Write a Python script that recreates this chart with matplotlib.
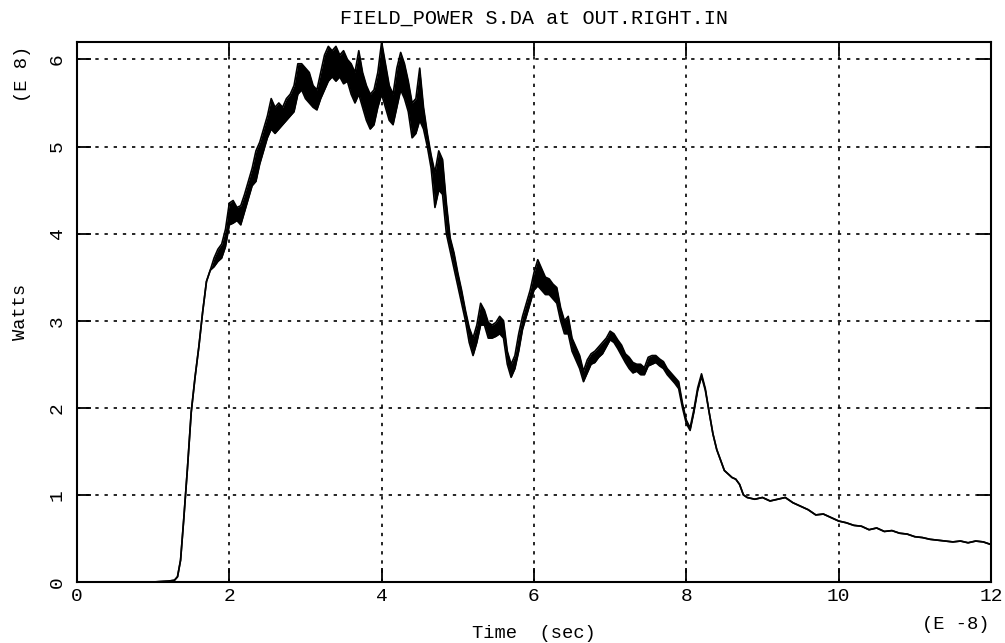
import numpy as np
import matplotlib
matplotlib.use("Agg")
import matplotlib.pyplot as plt

# --- data (time in units of 1e-8 s, power in units of 1e8 W) ---

# quiet start and the steep rise (single clean line)
t_rise = [0.0, 0.5, 1.0, 1.1, 1.2, 1.28, 1.32, 1.36, 1.40, 1.45, 1.50,
          1.55, 1.60, 1.65, 1.70, 1.75]
p_rise = [0.0, 0.0, 0.0, 0.005, 0.01, 0.02, 0.06, 0.25, 0.70, 1.30, 1.95,
          2.35, 2.70, 3.10, 3.45, 3.58]

# noisy middle part, 1.80 .. 8.75 every 0.05 : lower and upper edge of the band
t_band = np.round(np.arange(1.80, 8.76, 0.05), 2)
p_low = [
    3.62, 3.68, 3.72, 3.85, 4.10, 4.12, 4.15, 4.10, 4.25, 4.40,  # 1.80
    4.55, 4.60, 4.80, 4.95, 5.10, 5.20, 5.15, 5.20, 5.25, 5.30,  # 2.30
    5.35, 5.40, 5.60, 5.65, 5.55, 5.50, 5.45, 5.42, 5.55, 5.65,  # 2.80
    5.75, 5.80, 5.75, 5.80, 5.72, 5.75, 5.60, 5.50, 5.60, 5.45,  # 3.30
    5.30, 5.20, 5.25, 5.45, 5.60, 5.45, 5.30, 5.25, 5.45, 5.65,  # 3.80
    5.55, 5.40, 5.10, 5.15, 5.30, 5.20, 5.00, 4.75, 4.30, 4.50,  # 4.30
    4.45, 4.00, 3.80, 3.60, 3.40, 3.20, 3.00, 2.75, 2.60, 2.75,  # 4.80
    2.95, 2.95, 2.80, 2.80, 2.82, 2.85, 2.80, 2.50, 2.35, 2.45,  # 5.30
    2.65, 2.90, 3.05, 3.20, 3.35, 3.40, 3.35, 3.30, 3.30, 3.25,  # 5.80
    3.20, 3.00, 2.85, 2.85, 2.65, 2.55, 2.45, 2.30, 2.40, 2.50,  # 6.30
    2.52, 2.58, 2.62, 2.70, 2.78, 2.75, 2.68, 2.60, 2.52, 2.45,  # 6.80
    2.40, 2.42, 2.38, 2.38, 2.48, 2.50, 2.52, 2.48, 2.45, 2.38,  # 7.30
    2.33, 2.28, 2.22, 2.00, 1.82, 1.74, 1.95, 2.20, 2.36, 2.20,  # 7.80
    1.95, 1.70, 1.52, 1.40, 1.28, 1.24, 1.20, 1.18, 1.12, 1.00,  # 8.30
]
p_high = [
    3.72, 3.82, 3.88, 4.05, 4.35, 4.38, 4.30, 4.32, 4.45, 4.60,  # 1.80
    4.75, 4.95, 5.05, 5.20, 5.35, 5.55, 5.45, 5.50, 5.45, 5.55,  # 2.30
    5.60, 5.70, 5.95, 5.95, 5.90, 5.85, 5.70, 5.65, 5.85, 6.05,  # 2.80
    6.15, 6.10, 6.15, 6.05, 6.10, 6.00, 5.95, 5.85, 6.10, 5.85,  # 3.30
    5.70, 5.60, 5.65, 5.85, 6.20, 5.95, 5.70, 5.60, 5.90, 6.08,  # 3.80
    5.95, 5.75, 5.50, 5.55, 5.90, 5.45, 5.15, 4.90, 4.70, 4.95,  # 4.30
    4.85, 4.35, 3.95, 3.78, 3.55, 3.35, 3.12, 2.92, 2.80, 2.95,  # 4.80
    3.20, 3.12, 2.98, 2.95, 2.98, 3.05, 3.00, 2.65, 2.50, 2.60,  # 5.30
    2.85, 3.05, 3.20, 3.35, 3.55, 3.70, 3.60, 3.50, 3.48, 3.42,  # 5.80
    3.38, 3.15, 3.00, 3.05, 2.80, 2.70, 2.60, 2.42, 2.55, 2.62,  # 6.30
    2.65, 2.70, 2.75, 2.80, 2.88, 2.85, 2.78, 2.72, 2.62, 2.58,  # 6.80
    2.52, 2.50, 2.50, 2.46, 2.58, 2.60, 2.60, 2.56, 2.53, 2.45,  # 7.30
    2.40, 2.35, 2.30, 2.05, 1.86, 1.77, 1.98, 2.23, 2.39, 2.22,  # 7.80
    1.95, 1.70, 1.52, 1.40, 1.28, 1.24, 1.20, 1.18, 1.12, 1.00,  # 8.30
]

# slow decay tail, 8.8 .. 12.0 every 0.1
t_tail = np.round(np.arange(8.8, 12.01, 0.1), 1)
p_tail = [0.97, 0.95, 0.97, 0.93, 0.95, 0.97, 0.91, 0.87, 0.83, 0.77,
          0.78, 0.74, 0.70, 0.68, 0.65, 0.64, 0.60, 0.62, 0.58, 0.59,
          0.56, 0.55, 0.52, 0.51, 0.49, 0.48, 0.47, 0.46, 0.47, 0.45,
          0.47, 0.46, 0.43]

x_ticks = [0, 2, 4, 6, 8, 10, 12]
y_ticks = [0, 1, 2, 3, 4, 5, 6]

mono = "Liberation Mono"

fig = plt.figure(figsize=(10.05, 6.43), dpi=100)
ax = fig.add_axes([0.0766, 0.0949, 0.9094, 0.8398])

time = np.concatenate([t_rise, t_band, t_tail])
low = np.concatenate([p_rise, p_low, p_tail])
high = np.concatenate([p_rise, p_high, p_tail])

ax.fill_between(time, low, high, color="black", linewidth=0)
ax.plot(time, low, color="black", linewidth=1.2)
ax.plot(time, high, color="black", linewidth=1.2)

ax.set_xlim(0, 12)
ax.set_ylim(0, 6.2)
ax.set_xticks(x_ticks)
ax.set_yticks(y_ticks)
ax.set_xticklabels([str(v) for v in x_ticks], fontfamily=mono, fontsize=14)
ax.set_yticklabels([str(v) for v in y_ticks], fontfamily=mono, fontsize=14,
                   rotation=90, va="center")
ax.tick_params(direction="in", length=10, width=1.3, top=True, right=True,
               colors="black")
ax.tick_params(axis="x", pad=4)
ax.tick_params(axis="y", pad=8)

ax.grid(True, color="black", linestyle=(0, (2, 3.5)), linewidth=1.2)
for s in ax.spines.values():
    s.set_linewidth(1.5)

ax.set_title("FIELD_POWER S.DA at OUT.RIGHT.IN", fontfamily=mono,
             fontsize=14.5, pad=13)
ax.set_xlabel("Time  (sec)", fontfamily=mono, fontsize=13.5, labelpad=15)
ax.set_ylabel("Watts", fontfamily=mono, fontsize=13.5, labelpad=14)

fig.text(0.022, 0.885, "(E 8)", fontfamily=mono, fontsize=13.5, rotation=90,
         ha="center", va="center")
fig.text(0.951, 0.015, "(E -8)", fontfamily=mono, fontsize=13.5,
         ha="center", va="bottom")

fig.savefig("out.png", dpi=100)
